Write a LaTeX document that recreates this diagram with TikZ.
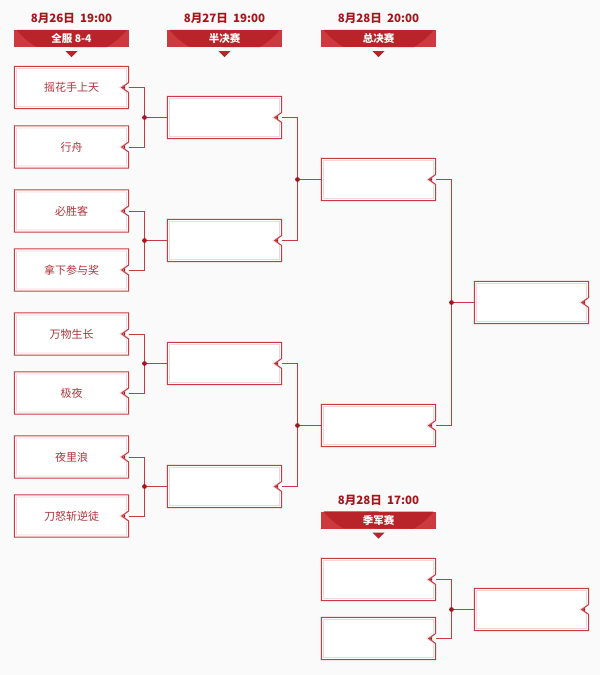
\documentclass[tikz,border=0pt]{standalone}
\usepackage{fontspec}
\setmainfont{Noto Sans CJK SC}
\usetikzlibrary{positioning}
\definecolor{cupred}{HTML}{CB3A3E}
\definecolor{cupdeep}{HTML}{B8242A}
\definecolor{cupdark}{HTML}{A3161B}
\definecolor{teamred}{HTML}{B0343A}
\definecolor{linered}{HTML}{C63C42}
\definecolor{innerpink}{HTML}{F5D6D8}
\definecolor{paper}{HTML}{FAFAFA}
\tikzset{
  team/.style={fill=white, minimum width=114pt, minimum height=42pt, inner sep=0pt, text=teamred, font=\fontsize{11}{13}\selectfont},
  banner/.style={fill=cupred, text=white, minimum width=115pt, minimum height=17pt, inner sep=0pt,
    font=\bfseries\fontsize{10.5}{12}\selectfont},
  datetag/.style={text=cupdark, font=\bfseries\fontsize{11.5}{13}\selectfont, inner sep=0pt},
  wire/.style={draw=linered, line width=1pt},
  joint/.style={fill=cupdark}
}
% outline of a slot box with the notch on its right side
\newcommand\slotframe[1]{%
  \fill[paper] ([shift={(0.5,-5)}]#1.east) -- ([shift={(-7,0)}]#1.east) -- ([shift={(0.5,5)}]#1.east) -- cycle;
  \draw[innerpink, line width=0.8pt] ([shift={(2.2,2.2)}]#1.north west) -- ([shift={(-2.2,2.2)}]#1.north east)
    -- ([shift={(-2.2,-4)}]#1.east) -- ([shift={(-9,0)}]#1.east) -- ([shift={(-2.2,4)}]#1.east)
    -- ([shift={(-2.2,-2.2)}]#1.south east) -- ([shift={(2.2,-2.2)}]#1.south west) -- cycle;
  \draw[linered, line width=1pt] (#1.north west) -- (#1.north east) -- ([shift={(0,-5)}]#1.east)
    -- ([shift={(-7,0)}]#1.east) -- ([shift={(0,5)}]#1.east) -- (#1.south east) -- (#1.south west) -- cycle;
  \fill[cupdark] ([shift={(-5.5,0)}]#1.east) -- ([shift={(-3.5,-1.8)}]#1.east) -- ([shift={(-3.5,1.8)}]#1.east) -- cycle;
}

\begin{document}
\begin{tikzpicture}[x=1pt, y=-1pt]
  \useasboundingbox (0,0) rectangle (600,675);
  \fill[paper] (0,0) rectangle (600,675);

  % headers
  \node[banner] (b1) at (71.5,38.5) {\phantom{全服 8-4}};
  \node[banner] (b2) at (224.5,38.5) {\phantom{半决赛}};
  \node[banner] (b3) at (378.5,38.5) {\phantom{总决赛}};
  \node[banner] (b4) at (378.5,520) {\phantom{季军赛}};
  \foreach \b in {b1,b2,b3,b4} {
    \fill[cupdeep] ([xshift=-55pt]\b.north) arc[start angle=218.9, end angle=240.3, radius=70.7pt]
      -- ([xshift=35pt]\b.south) arc[start angle=299.7, end angle=321.1, radius=70.7pt] -- cycle;
    \fill[cupdeep] ([yshift=-4pt]\b.south) +(-6,0) -- +(6,0) -- +(0,6) -- cycle;
  }
  \node[banner, fill=none] at (b1) {全服 8-4};
  \node[banner, fill=none] at (b2) {半决赛};
  \node[banner, fill=none] at (b3) {总决赛};
  \node[banner, fill=none] at (b4) {季军赛};
  \node[datetag, above=6pt of b1] (d1) {8月26日\ \ 19:00};
  \node[datetag, above=6pt of b2] (d2) {8月27日\ \ 19:00};
  \node[datetag, above=6pt of b3] (d3) {8月28日\ \ 20:00};
  \node[datetag, above=6pt of b4] (d4) {8月28日\ \ 17:00};

  % first round
  \node[team] (t1) at (71.5,87.5) {摇花手上天};
  \node[team] (t2) at (71.5,147) {行舟};
  \node[team] (t3) at (71.5,211) {必胜客};
  \node[team] (t4) at (71.5,270) {拿下参与奖};
  \node[team] (t5) at (71.5,334) {万物生长};
  \node[team] (t6) at (71.5,393) {极夜};
  \node[team] (t7) at (71.5,457) {夜里浪};
  \node[team] (t8) at (71.5,516) {刀怒斩逆徒};

  % semifinal, final, winner
  \node[team] (s1) at (224.5,117.5) {};
  \node[team] (s2) at (224.5,240.5) {};
  \node[team] (s3) at (224.5,363.5) {};
  \node[team] (s4) at (224.5,486.5) {};
  \node[team] (f1) at (378.5,179.5) {};
  \node[team] (f2) at (378.5,425.5) {};
  \node[team] (w1) at (531.5,302.5) {};

  % third place
  \node[team] (q1) at (378.5,579.5) {};
  \node[team] (q2) at (378.5,638.5) {};
  \node[team] (w2) at (531.5,609.5) {};

  \foreach \n in {t1,t2,t3,t4,t5,t6,t7,t8,s1,s2,s3,s4,f1,f2,w1,q1,q2,w2}
    {\slotframe{\n}}

  \coordinate (j1) at (144.5,117.5);
  \coordinate (j2) at (144.5,240.5);
  \coordinate (j3) at (144.5,363.5);
  \coordinate (j4) at (144.5,486.5);
  \coordinate (j5) at (297.5,179.5);
  \coordinate (j6) at (297.5,425.5);
  \coordinate (j7) at (451.5,302.5);
  \coordinate (j8) at (451.5,609.5);

  \draw[wire] (t1.east) -| (j1) |- (t2.east);
  \draw[wire] (t3.east) -| (j2) |- (t4.east);
  \draw[wire] (t5.east) -| (j3) |- (t6.east);
  \draw[wire] (t7.east) -| (j4) |- (t8.east);
  \draw[wire] (s1.east) -| (j5) |- (s2.east);
  \draw[wire] (s3.east) -| (j6) |- (s4.east);
  \draw[wire] (f1.east) -| (j7) |- (f2.east);
  \draw[wire] (q1.east) -| (j8) |- (q2.east);
  \draw[wire] (j1) -- (s1.west);
  \draw[wire] (j2) -- (s2.west);
  \draw[wire] (j3) -- (s3.west);
  \draw[wire] (j4) -- (s4.west);
  \draw[wire] (j5) -- (f1.west);
  \draw[wire] (j6) -- (f2.west);
  \draw[wire] (j7) -- (w1.west);
  \draw[wire] (j8) -- (w2.west);
  \foreach \j in {j1,j2,j3,j4,j5,j6,j7,j8}
    \fill[joint] (\j) circle (2.4pt);
\end{tikzpicture}
\end{document}
